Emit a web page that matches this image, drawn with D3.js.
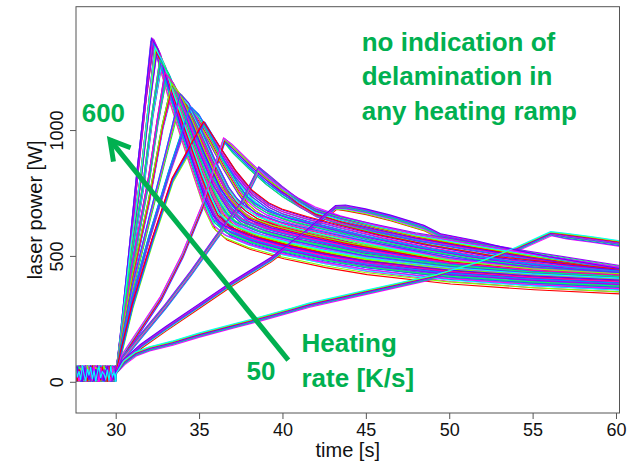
<!DOCTYPE html>
<html>
<head>
<meta charset="utf-8">
<script src="https://cdn.jsdelivr.net/npm/d3@7"></script>
<style>
body { margin: 0; background: #fff; }
svg { display: block; font-family: "Liberation Sans", Arial, sans-serif; }
</style>
</head>
<body>
<div id="chart"></div>
<script>

// axis ticks
var timeTicks = [30, 35, 40, 45, 50, 55, 60];
var powerTicks = [0, 500, 1000];

// heating ramps, fastest first: [time s, laser power W]
var heatingRates = [600, 550, 500, 450, 400, 350, 300, 250, 200, 150, 100, 50];

var ramp600 = [[30,30],[30.3,180],[30.8,500],[31.3,830],[31.8,1130],[32.2,1355],[32.6,1290],[33.2,1150],[34,980],[34.8,820],[35.4,700],[35.9,630],[36.6,590],[38,552],[40,515],[42.5,480],[45,452],[50,415],[55,392],[60.3,375]];
var ramp550 = [[30,30],[30.3,170],[30.9,520],[31.5,810],[32,1100],[32.4,1320],[32.9,1240],[33.5,1120],[34.3,970],[35.2,800],[35.7,715],[36.2,645],[36.9,600],[38.3,562],[40.3,527],[42.5,495],[45,465],[50,425],[55,400],[60.3,383]];
var ramp500 = [[30,30],[30.3,160],[31,510],[31.7,800],[32.2,1060],[32.7,1270],[33.2,1200],[33.9,1080],[34.7,930],[35.5,790],[36,720],[36.5,655],[37.2,612],[38.6,574],[40.6,540],[43,505],[45,480],[50,437],[55,410],[60.3,392]];
var ramp450 = [[30,30],[30.3,150],[31,460],[32,810],[32.5,1030],[33,1220],[33.5,1160],[34.2,1050],[35,910],[35.9,770],[36.4,715],[36.9,665],[37.6,622],[39,585],[41,552],[43.5,518],[45,495],[50,447],[55,417],[60.3,398]];
var ramp400 = [[30,30],[30.3,140],[31,410],[32,720],[32.8,1010],[33.4,1175],[33.9,1120],[34.6,1020],[35.4,890],[36.3,760],[36.8,712],[37.3,672],[38,632],[39.4,598],[41.4,565],[44,528],[46,505],[50,458],[55,425],[60.3,405]];
var ramp350 = [[30,30],[30.3,130],[31,370],[32,640],[33,900],[33.9,1135],[34.4,1085],[35.1,990],[35.9,870],[36.8,750],[37.3,705],[37.8,675],[38.5,645],[39.9,612],[42,578],[44.5,542],[47,510],[50,470],[55,432],[60.3,410]];
var ramp300 = [[30,30],[30.3,120],[31,330],[32,570],[33.2,830],[34.5,1085],[35,1040],[35.7,960],[36.5,860],[37.4,760],[37.9,715],[38.4,686],[39.1,658],[40.5,627],[42.5,595],[45,555],[48,515],[51,480],[55,443],[60.3,415]];
var ramp250 = [[30,30],[30.3,110],[31,300],[32.2,560],[33.4,800],[35.3,1025],[36.2,920],[37.2,820],[38.2,740],[39.2,690],[40,665],[41.5,635],[43.5,600],[46,560],[49,520],[53,475],[60.3,425]];
var ramp200 = [[30,30],[30.4,100],[31.5,210],[32.7,330],[34,500],[35.2,695],[36.5,960],[37,925],[38,860],[39,800],[40,750],[41,710],[42,675],[43.5,640],[45.5,605],[48,568],[51,532],[55,488],[60.3,435]];
var ramp150 = [[30,30],[30.4,90],[31.5,180],[33,300],[34.5,430],[36,570],[37.5,700],[38.6,845],[39.2,805],[40,760],[41,710],[42,670],[43.5,640],[45.5,610],[48,575],[51,543],[55,500],[60.3,445]];
var ramp100 = [[30,30],[30.4,75],[31.5,140],[33,210],[35,300],[37,390],[39.3,484],[41.3,585],[43.2,692],[43.8,690],[45,675],[46.5,650],[48.5,610],[49.5,576],[51.5,550],[53.4,520],[56,485],[60.3,437]];
var ramp50 = [[30,30],[30.5,75],[31.2,110],[32,130],[33.4,153],[35,185],[37,220],[38.05,238],[40.6,285],[41.6,304],[45,355],[49.2,417],[51.9,470],[54,525],[56.1,588],[57,578],[58.5,565],[60.3,548]];

var ramps = [ramp600, ramp550, ramp500, ramp450, ramp400, ramp350, ramp300, ramp250, ramp200, ramp150, ramp100, ramp50];

// scatter of the repeated runs of a ramp: power offset (W) and delay (s)
var runShift = [-22, -15, -9, -4, 0, 4, 9, 14, 19, 24];
var runDelay = [0.07, -0.05, 0.03, -0.08, 0.06, -0.02, 0.08, -0.06, 0.01, -0.04];
var rampSpread = [1.2, 1.2, 1.1, 1.1, 1, 1, 1, 0.9, 0.8, 0.7, 0.5, 0.5];

// idle laser power before the ramp starts
var baseTimes = [27.6,27.7,27.8,27.9,28.0,28.1,28.2,28.3,28.4,28.5,28.6,28.7,28.8,28.9,29.0,29.1,29.2,29.3,29.4,29.5,29.6,29.7,29.8,29.9,30.0];
var baseNoise = [12,48,5,60,22,38,0,55,18,42,8,64,30,3,50,25,58,10,44,2,35,62,15,40,30];

var runColors = ["#FF0000", "#80FF00", "#00FFFF", "#FF00FF", "#3050FF", "#00FF60", "#9900FF", "#0090FF", "#FF00C0", "#6A00FF"];

var annotColor = "#00B050";

var width = 633, height = 468;
var margin = {top: 6.7, right: 13.5, bottom: 55, left: 76};

var svg = d3.select("#chart")
	.append("svg")
	.attr("width", width)
	.attr("height", height);

var x = d3.scaleLinear()
	.domain([27.62, 60.21])
	.range([margin.left, width - margin.right]);

var y = d3.scaleLinear()
	.domain([-124, 1490])
	.range([height - margin.bottom, margin.top]);

svg.append("clipPath")
	.attr("id", "plotclip")
	.append("rect")
	.attr("x", margin.left)
	.attr("y", margin.top)
	.attr("width", width - margin.left - margin.right)
	.attr("height", height - margin.top - margin.bottom);

var line = d3.line()
	.x(function(d){ return x(d[0]); })
	.y(function(d){ return y(d[1]); });

// build every run of every ramp; rises stay tight, decays scatter more
var runs = [];
runShift.forEach(function(s, k){
	ramps.forEach(function(r, i){
		var peak = d3.maxIndex(r, function(p){ return p[1]; });
		var pts = baseTimes.map(function(t, j){
			return [t, baseNoise[(j + 3 * k + 5 * i) % baseNoise.length]];
		});
		r.forEach(function(p, j){
			var dt = 0, dp = 0;
			if (p[0] > 30.2) {
				dt = runDelay[k] * (j >= peak ? rampSpread[i] : 0.5);
				dp = s * (j > peak ? rampSpread[i] : 0.35);
			}
			pts.push([p[0] + dt, p[1] + dp]);
		});
		runs.push({pts: pts, color: runColors[(k + 3 * i) % runColors.length]});
	});
});

svg.append("g")
	.attr("clip-path", "url(#plotclip)")
	.selectAll("path")
	.data(runs)
	.enter()
	.append("path")
	.attr("d", function(d){ return line(d.pts); })
	.style("fill", "none")
	.style("stroke", function(d){ return d.color; })
	.style("stroke-width", 1.1);

// frame
svg.append("rect")
	.attr("x", margin.left)
	.attr("y", margin.top)
	.attr("width", width - margin.left - margin.right)
	.attr("height", height - margin.top - margin.bottom)
	.style("fill", "none")
	.style("stroke", "#555")
	.style("stroke-width", 1);

// x axis
var gx = svg.append("g")
	.attr("transform", "translate(0," + (height - margin.bottom) + ")")
	.call(d3.axisBottom(x).tickValues(timeTicks).tickSize(6).tickPadding(4));
gx.select(".domain").remove();
gx.selectAll("line").style("stroke", "#555");
gx.selectAll("text").style("font-size", "18px").style("fill", "#111")
	.style("font-family", "'Liberation Sans', Arial, sans-serif");

// y axis
var gy = svg.append("g")
	.attr("transform", "translate(" + margin.left + ",0)")
	.call(d3.axisLeft(y).tickValues(powerTicks).tickSize(6).tickFormat(d3.format("d")));
gy.select(".domain").remove();
gy.selectAll("line").style("stroke", "#555");
gy.selectAll("text")
	.attr("x", 0)
	.attr("dy", 0)
	.attr("transform", "translate(-13,0) rotate(-90)")
	.style("text-anchor", "middle")
	.style("font-size", "18px").style("fill", "#111")
	.style("font-family", "'Liberation Sans', Arial, sans-serif");

// axis titles
svg.append("text")
	.attr("x", (margin.left + width - margin.right) / 2)
	.attr("y", 457)
	.attr("text-anchor", "middle")
	.style("font-size", "20px")
	.style("fill", "#111")
	.text("time [s]");

svg.append("text")
	.attr("transform", "translate(42," + ((margin.top + height - margin.bottom) / 2) + ") rotate(-90)")
	.attr("text-anchor", "middle")
	.style("font-size", "20px")
	.style("fill", "#111")
	.text("laser power [W]");

// annotations
var notes = [
	{text: "no indication of", tx: 361.7, ty: 50.7},
	{text: "delamination in", tx: 361.7, ty: 85},
	{text: "any heating ramp", tx: 361.7, ty: 119.7},
	{text: "600", tx: 81.7, ty: 121.7},
	{text: "50", tx: 246.5, ty: 380},
	{text: "Heating", tx: 301.5, ty: 351.7},
	{text: "rate [K/s]", tx: 301.5, ty: 386.7}
];

svg.selectAll(".note")
	.data(notes)
	.enter()
	.append("text")
	.attr("class", "note")
	.attr("x", function(d){ return d.tx; })
	.attr("y", function(d){ return d.ty; })
	.style("font-size", "26px")
	.style("font-weight", "bold")
	.style("fill", annotColor)
	.text(function(d){ return d.text; });

// arrow from slow to fast heating rate
var arrowTail = [40.35, 86];
var arrowTip = [29.66, 961];
var tx = x(arrowTip[0]), ty = y(arrowTip[1]);
var ang = Math.atan2(y(arrowTail[1]) - ty, x(arrowTail[0]) - tx);
var barb = 22, spread = Math.PI / 6;

svg.append("line")
	.attr("x1", x(arrowTail[0]))
	.attr("y1", y(arrowTail[1]))
	.attr("x2", tx)
	.attr("y2", ty)
	.style("stroke", annotColor)
	.style("stroke-width", 5);

svg.append("path")
	.attr("d", "M" + (tx + barb * Math.cos(ang + spread)) + "," + (ty + barb * Math.sin(ang + spread)) +
		"L" + tx + "," + ty +
		"L" + (tx + barb * Math.cos(ang - spread)) + "," + (ty + barb * Math.sin(ang - spread)))
	.style("fill", "none")
	.style("stroke", annotColor)
	.style("stroke-width", 5);

</script>
</body>
</html>
